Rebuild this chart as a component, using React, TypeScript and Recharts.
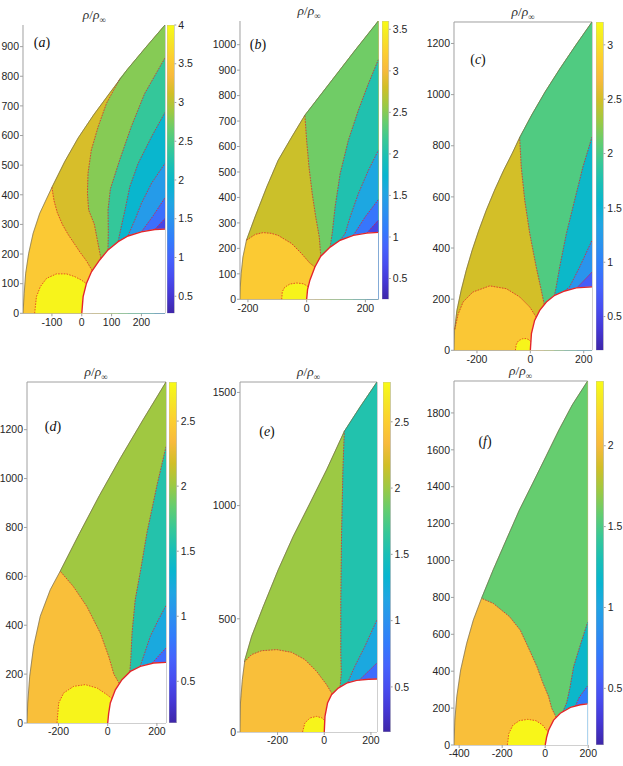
import React from 'react';
import { ComposedChart, Scatter, XAxis, YAxis, ReferenceLine } from 'recharts';

type Pt = [number, number];

// ---- panel (a) ----
const shockA: Pt[] = [[-197, 0], [-193, 67], [-188, 135], [-178, 202], [-163, 270], [-141, 337], [-100, 425], [-57, 512], [-12, 592], [40, 670], [95, 745], [152, 822], [215, 898], [279, 973]];
const bodyA: Pt[] = [[0, 0], [4.5, 56], [15.6, 101], [32.4, 140], [60, 180], [88, 214], [122, 242], [155, 261], [200, 275], [245, 283], [279, 284]];
const bubbleA: Pt[] = [[-158, 0], [-152, 56], [-139, 90], [-118, 118], [-85, 133], [-51, 133], [-24, 124], [-1, 112], [16, 100]];
const linesA: Pt[][] = [
  [[35, 144], [15, 178], [-5, 205], [-23, 232], [-45, 265], [-65, 300], [-82, 340], [-93, 380], [-100, 425]],
  [[64, 186], [42, 301], [23, 349], [19, 405], [21, 472], [32, 551], [55, 630], [83, 709], [129, 794]],
  [[88, 214], [89, 280], [88, 349], [96, 420], [127, 517], [166, 630], [211, 742], [279, 862]],
  [[122, 243], [132, 290], [145, 349], [161, 427], [189, 506], [234, 596], [279, 678]],
  [[155, 262], [165, 285], [180, 320], [200, 371], [234, 439], [279, 506]],
  [[200, 275], [240, 330], [279, 390]],
  [[245, 283], [279, 320]],
];
const rhoA = [3.93, 3.52, 3.15, 2.78, 2.38, 1.95, 1.58, 1.1, 0.65];

// ---- panel (b) ----
const shockB: Pt[] = [[-227, 0], [-226, 48], [-223, 101], [-217, 166], [-205, 232], [-176, 323], [-136, 441], [-97, 546], [-51, 637], [-6, 723], [51, 808], [108, 893], [165, 978], [244, 1093]];
const bodyB: Pt[] = [[0, 0], [3, 38], [11, 75], [28, 127], [48, 169], [80, 205], [114, 232], [159, 251], [205, 260], [244, 263]];
const bubbleB: Pt[] = [[-85, 0], [-83, 30], [-75, 47], [-57, 60], [-34, 64], [-11, 61], [5, 50]];
const linesB: Pt[][] = [
  [[28, 127], [11, 142], [-17, 179], [-51, 219], [-97, 251], [-120, 259], [-148, 262], [-175, 255], [-205, 232]],
  [[48, 169], [43, 245], [31, 323], [19, 415], [8, 520], [0, 624], [-6, 723]],
  [[80, 205], [87, 258], [97, 363], [114, 493], [142, 624], [176, 742], [210, 846], [244, 941]],
  [[114, 232], [131, 258], [148, 323], [176, 415], [210, 506], [244, 585]],
  [[159, 251], [199, 323], [244, 391]],
  [[205, 260], [244, 310]],
];
const rhoB = [3.53, 3.18, 2.78, 2.42, 2.0, 1.55, 1.05, 0.6];

// ---- panel (c) ----
const shockC: Pt[] = [[-286, 0], [-284, 78], [-275, 156], [-259, 235], [-240, 313], [-218, 391], [-193, 469], [-165, 548], [-134, 626], [-100, 704], [-68, 770], [-40, 832], [5, 920], [55, 1010], [110, 1100], [168, 1190], [231, 1284]];
const bodyC: Pt[] = [[0, 0], [4, 65], [16, 117], [35, 156], [60, 189], [91, 215], [129, 232], [172, 244], [231, 248]];
const bubbleC: Pt[] = [[-56, 0], [-53, 22], [-45, 37], [-30, 45], [-15, 46], [-3, 40], [2, 33]];
const linesC: Pt[][] = [
  [[22, 130], [-2, 169], [-40, 209], [-90, 241], [-152, 252], [-215, 228], [-252, 189], [-271, 140], [-284, 78]],
  [[52, 180], [41, 235], [22, 326], [-2, 456], [-21, 587], [-34, 717], [-40, 832]],
  [[90, 212], [97, 248], [110, 326], [135, 456], [166, 587], [197, 717], [231, 834]],
  [[128, 232], [147, 248], [185, 326], [231, 430]],
  [[175, 245], [200, 272], [231, 306]],
];
const rhoC = [3.15, 2.8, 2.5, 2.02, 1.58, 1.18, 0.7];

// ---- panel (d) ----
const shockD: Pt[] = [[-328, 0], [-325, 82], [-317, 191], [-301, 314], [-274, 437], [-233, 546], [-193, 621], [-115, 775], [-34, 930], [53, 1086], [144, 1241], [237, 1395]];
const bodyD: Pt[] = [[0, 0], [4, 40], [10.6, 82], [31, 136], [58, 177], [92, 211], [132.6, 232], [186.6, 245.5], [237, 248]];
const bubbleD: Pt[] = [[-206, 0], [-199, 82], [-179, 123], [-138, 150], [-91, 157], [-43, 143], [-3, 116], [17, 100]];
const linesD: Pt[][] = [
  [[47, 162], [25, 200], [5, 270], [-30, 368], [-85, 477], [-140, 559], [-193, 621]],
  [[90, 210], [94, 260], [99, 368], [112, 505], [133, 620], [160, 780], [201, 975], [237, 1130]],
  [[132, 232], [150, 285], [173, 354], [205, 420], [237, 480]],
  [[180, 244], [205, 272], [237, 307]],
];
const rhoD = [2.75, 2.38, 2.02, 1.57, 1.22, 0.75];

// ---- panel (e) ----
const shockE: Pt[] = [[-361, 0], [-359, 128], [-351, 231], [-340, 319], [-311, 423], [-261, 555], [-197, 717], [-133, 864], [-61, 1011], [10, 1158], [86, 1328], [153, 1435], [226, 1546]];
const bodyE: Pt[] = [[0, 0], [3, 69], [14, 128], [31, 165], [60, 194], [96, 216], [139, 228], [189, 233], [226, 234]];
const bubbleE: Pt[] = [[-93, 0], [-83, 40], [-61, 62], [-33, 69], [-9, 62], [2, 50]];
const linesE: Pt[][] = [
  [[34, 168], [10, 209], [-33, 268], [-83, 320], [-140, 352], [-204, 364], [-269, 359], [-311, 342], [-342, 310]],
  [[68, 200], [73, 260], [71, 349], [71, 570], [74, 864], [80, 1159], [86, 1328]],
  [[100, 218], [131, 290], [174, 378], [226, 496]],
  [[150, 229], [189, 268], [226, 305]],
];
const rhoE = [2.75, 2.38, 2.0, 1.55, 1.2, 0.72];

// ---- panel (f) ----
const shockF: Pt[] = [[-424, 0], [-420, 136], [-411, 262], [-393, 407], [-365, 551], [-334, 678], [-296, 795], [-242, 949], [-181, 1112], [-120, 1274], [-58, 1419], [3, 1563], [64, 1708], [126, 1844], [197, 1973]];
const bodyF: Pt[] = [[0, 0], [7, 45], [16, 81], [39, 135], [70, 172], [117, 204], [163, 218], [197, 223]];
const bubbleF: Pt[] = [[-176, 0], [-169, 63], [-150, 108], [-120, 132], [-81, 139], [-43, 132], [-12, 108], [12, 72]];
const linesF: Pt[][] = [
  [[51, 150], [30, 200], [16, 262], [-12, 340], [-38, 424], [-75, 520], [-116, 623], [-166, 696], [-242, 768], [-296, 795]],
  [[82, 180], [100, 230], [115, 310], [132, 424], [160, 530], [197, 665]],
  [[140, 211], [160, 262], [197, 320]],
];
const rhoF = [2.37, 2.04, 1.58, 1.18, 0.72];

// parula colormap
const PARULA: number[][] = [
  [0.0, 62, 38, 168], [0.063, 69, 55, 213], [0.127, 72, 77, 240], [0.19, 69, 99, 253],
  [0.254, 50, 124, 252], [0.317, 43, 145, 239], [0.381, 32, 165, 227], [0.444, 8, 181, 208],
  [0.508, 25, 191, 182], [0.571, 55, 200, 151], [0.635, 100, 205, 111], [0.698, 157, 201, 67],
  [0.762, 209, 191, 39], [0.825, 248, 186, 61], [0.889, 252, 207, 48], [0.952, 245, 233, 36],
  [1.0, 249, 251, 21],
];
const rgb = (r: number, g: number, b: number) => `rgb(${Math.round(r)},${Math.round(g)},${Math.round(b)})`;
function parula(t: number) {
  const u = Math.max(0, Math.min(1, t));
  for (let i = 1; i < PARULA.length; i++) {
    const a = PARULA[i - 1], b = PARULA[i];
    if (u <= b[0]) {
      const k = (u - a[0]) / (b[0] - a[0]);
      return rgb(a[1] + k * (b[1] - a[1]), a[2] + k * (b[2] - a[2]), a[3] + k * (b[3] - a[3]));
    }
  }
  return rgb(249, 251, 21);
}

interface Spec {
  id: string;
  plot: [number, number, number, number];
  bar: [number, number];
  xDomain: [number, number];
  yDomain: [number, number];
  xTicks: number[];
  yTicks: number[];
  cRange: [number, number];
  cTicks: number[];
  shock: Pt[];
  body: Pt[];
  bubble: Pt[];
  lines: Pt[][];
  rho: number[];
  box: boolean;
  labelAt: [number, number];
}

const specs: Spec[] = [
  { id: 'a', plot: [23.3, 25, 165.3, 313.3], bar: [166.7, 174], xDomain: [-197, 279], yDomain: [0, 973], xTicks: [-100, 0, 100, 200], yTicks: [0, 100, 200, 300, 400, 500, 600, 700, 800, 900], cRange: [0.28, 4.0], cTicks: [0.5, 1, 1.5, 2, 2.5, 3, 3.5, 4], shock: shockA, body: bodyA, bubble: bubbleA, lines: linesA, rho: rhoA, box: false, labelAt: [42, 43] },
  { id: 'b', plot: [240, 20.7, 378.3, 299], bar: [381.7, 388.5], xDomain: [-227, 244], yDomain: [0, 1093], xTicks: [-200, 0, 200], yTicks: [0, 100, 200, 300, 400, 500, 600, 700, 800, 900, 1000], cRange: [0.25, 3.6], cTicks: [0.5, 1, 1.5, 2, 2.5, 3, 3.5], shock: shockB, body: bodyB, bubble: bubbleB, lines: linesB, rho: rhoB, box: false, labelAt: [258, 45] },
  { id: 'c', plot: [454, 21.7, 592, 350], bar: [595.7, 603], xDomain: [-286, 231], yDomain: [0, 1284], xTicks: [-200, 0, 200], yTicks: [0, 200, 400, 600, 800, 1000, 1200], cRange: [0.19, 3.21], cTicks: [0.5, 1, 1.5, 2, 2.5, 3], shock: shockC, body: bodyC, bubble: bubbleC, lines: linesC, rho: rhoC, box: true, labelAt: [478, 60] },
  { id: 'd', plot: [26.7, 382.3, 165.7, 723.3], bar: [169, 176.7], xDomain: [-328, 237], yDomain: [0, 1395], xTicks: [-200, 0, 200], yTicks: [0, 200, 400, 600, 800, 1000, 1200], cRange: [0.18, 2.8], cTicks: [0.5, 1, 1.5, 2, 2.5], shock: shockD, body: bodyD, bubble: bubbleD, lines: linesD, rho: rhoD, box: true, labelAt: [53, 427] },
  { id: 'e', plot: [240, 382.3, 377, 732.3], bar: [382.7, 390.3], xDomain: [-361, 226], yDomain: [0, 1546], xTicks: [-200, 0, 200], yTicks: [0, 500, 1000, 1500], cRange: [0.16, 2.8], cTicks: [0.5, 1, 1.5, 2, 2.5], shock: shockE, body: bodyE, bubble: bubbleE, lines: linesE, rho: rhoE, box: true, labelAt: [267, 432] },
  { id: 'f', plot: [453.7, 381, 587.3, 745], bar: [596, 603.7], xDomain: [-424, 197], yDomain: [0, 1973], xTicks: [-400, -200, 0, 200], yTicks: [0, 200, 400, 600, 800, 1000, 1200, 1400, 1600, 1800], cRange: [0.15, 2.4], cTicks: [0.5, 1, 1.5, 2], shock: shockF, body: bodyF, bubble: bubbleF, lines: linesF, rho: rhoF, box: true, labelAt: [485, 442] },
];

// region to the right of a boundary line (line runs from the body outwards)
function regionRight(line: Pt[], shock: Pt[], xmax: number, xR: number): Pt[] {
  const end = line[line.length - 1];
  const out: Pt[] = [...line];
  if (end[0] < xmax - 0.5) {
    out.push(...shock.filter((p) => p[1] > end[1] + 0.5));
    out.push([xR, shock[shock.length - 1][1]]);
  } else {
    out.push([xR, end[1]]);
  }
  out.push([xR, 0], [line[0][0], 0], line[0]);
  return out;
}

const Empty = () => <g />;
const toData = (p: Pt[]) => p.map(([x, y]) => ({ x, y }));
const AXIS = '#a0a0a0';
const TICK = { fontSize: 10.5, fill: '#262626', fontFamily: 'Liberation Sans, Arial, sans-serif' };
const RED = '#e3262a';
const RIGHT_PAD = 14;

function ColorBarShape(gid: string) {
  return (p: any) => {
    const pts: { x: number; y: number }[] = p.points || [];
    if (!pts.length) return <g />;
    const xs = pts.map((q) => q.x);
    const ys = pts.map((q) => q.y);
    const x0 = Math.min(...xs), x1 = Math.max(...xs);
    const y0 = Math.min(...ys), y1 = Math.max(...ys);
    return (
      <g>
        <defs>
          <linearGradient id={gid} x1="0" y1="1" x2="0" y2="0">
            {PARULA.map((s) => (
              <stop key={s[0]} offset={s[0]} stopColor={rgb(s[1], s[2], s[3])} />
            ))}
          </linearGradient>
        </defs>
        <rect x={x0} y={y0} width={x1 - x0} height={y1 - y0} fill={`url(#${gid})`} stroke="#b5b5b5" strokeWidth={0.6} />
      </g>
    );
  };
}

function Panel({ s }: { s: Spec }) {
  const [L, T, R, B] = s.plot;
  const W = R - L;
  const H = B - T;
  const xmax = s.xDomain[1];
  const xR = xmax + 60;
  const [cmin, cmax] = s.cRange;
  const col = (v: number) => parula((v - cmin) / (cmax - cmin));
  const shockTop = s.shock[s.shock.length - 1];
  const bubEnd = s.bubble[s.bubble.length - 1];
  const bodyEnd = s.body[s.body.length - 1];

  const fills: { pts: Pt[]; color: string }[] = [];
  fills.push({ pts: [...s.shock, [xR, shockTop[1]], [xR, 0], s.shock[0]], color: col(s.rho[1]) });
  fills.push({ pts: [...s.bubble, [bubEnd[0], 0], s.bubble[0]], color: col(s.rho[0]) });
  s.lines.forEach((ln, i) => fills.push({ pts: regionRight(ln, s.shock, xmax, xR), color: col(s.rho[i + 2]) }));
  fills.push({ pts: [...s.body, [xR, bodyEnd[1]], [xR, 0], s.body[0]], color: '#ffffff' });

  const bw = s.bar[1] - s.bar[0];
  const barCorners: Pt[] = [[0, cmin], [1, cmin], [1, cmax], [0, cmax]];

  return (
    <>
      <div style={{ position: 'absolute', left: L - 34, top: T - 4 }}>
        <ComposedChart width={W + 34 + RIGHT_PAD} height={H + 26} margin={{ top: 4, right: RIGHT_PAD, bottom: 0, left: 0 }}>
          <XAxis type="number" dataKey="x" domain={s.xDomain} allowDataOverflow ticks={s.xTicks} interval={0} height={22} tickSize={3} stroke={AXIS} tick={TICK} />
          <YAxis type="number" dataKey="y" domain={s.yDomain} allowDataOverflow ticks={s.yTicks} interval={0} width={34} tickSize={3} tickMargin={1} stroke={AXIS} tick={TICK} />
          {fills.map((f, i) => (
            <Scatter key={`f${i}`} data={toData(f.pts)} shape={Empty} legendType="none" isAnimationActive={false}
              line={{ fill: f.color, stroke: f.color, strokeWidth: 0.5 }} />
          ))}
          {s.lines.map((ln, i) => (
            <Scatter key={`l${i}`} data={toData(ln)} shape={Empty} legendType="none" isAnimationActive={false}
              line={{ fill: 'none', stroke: RED, strokeWidth: 0.8, strokeDasharray: '1.6 1.2' }} />
          ))}
          <Scatter data={toData(s.bubble)} shape={Empty} legendType="none" isAnimationActive={false}
            line={{ fill: 'none', stroke: RED, strokeWidth: 0.8, strokeDasharray: '1.6 1.2' }} />
          <Scatter data={toData(s.shock)} shape={Empty} legendType="none" isAnimationActive={false}
            line={{ fill: 'none', stroke: '#5a5a5a', strokeWidth: 0.6 }} />
          <Scatter data={toData(s.body)} shape={Empty} legendType="none" isAnimationActive={false}
            line={{ fill: 'none', stroke: RED, strokeWidth: 1.4 }} />
          <ReferenceLine x={xmax} stroke={AXIS} strokeWidth={1} />
          {s.box && <ReferenceLine y={s.yDomain[1]} stroke={AXIS} strokeWidth={1} />}
        </ComposedChart>
      </div>
      <div style={{ position: 'absolute', left: s.bar[0], top: T - 4 }}>
        <ComposedChart width={bw + 30} height={H + 8} margin={{ top: 4, right: 0, bottom: 4, left: 0 }}>
          <XAxis type="number" dataKey="x" domain={[0, 1]} hide />
          <YAxis type="number" dataKey="y" orientation="right" domain={s.cRange} allowDataOverflow ticks={s.cTicks} interval={0} width={30} tickSize={2} tickMargin={2} stroke={AXIS} axisLine={false} tick={TICK} />
          <Scatter data={toData(barCorners)} shape={Empty} legendType="none" isAnimationActive={false}
            line={ColorBarShape(`cbar-${s.id}`)} />
        </ComposedChart>
      </div>
      <div style={{ position: 'absolute', left: L, width: W, top: T - 18, textAlign: 'center', fontFamily: 'Liberation Serif, DejaVu Serif, serif', fontSize: 13.5, color: '#333', lineHeight: '15px' }}>
        <i>ρ</i>/<i>ρ</i><sub style={{ fontSize: 9 }}>∞</sub>
      </div>
      <div style={{ position: 'absolute', left: s.labelAt[0] - 15, width: 30, top: s.labelAt[1] - 9, textAlign: 'center', fontFamily: 'Liberation Serif, DejaVu Serif, serif', fontSize: 14, color: '#111', lineHeight: '18px' }}>
        (<i>{s.id}</i>)
      </div>
    </>
  );
}

export default function App() {
  return (
    <div style={{ position: 'absolute', left: 0, top: 0, width: 623, height: 766, background: '#fff' }}>
      {specs.map((s) => (
        <Panel key={s.id} s={s} />
      ))}
    </div>
  );
}
